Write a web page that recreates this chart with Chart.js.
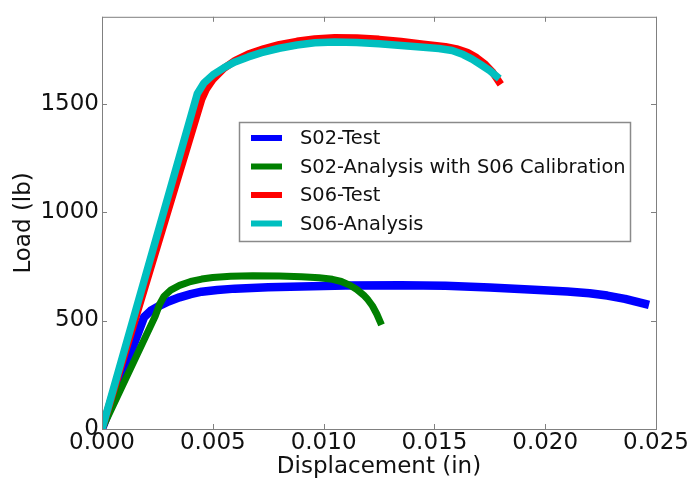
<!DOCTYPE html>
<html>
<head>
<meta charset="utf-8">
<script src="https://cdn.jsdelivr.net/npm/chart.js@4"></script>
<style>
  html, body { margin: 0; padding: 0; background: #fff; }
  #wrap { width: 695px; height: 482px; }
</style>
</head>
<body>
<div id="wrap"><canvas id="loadChart" width="695" height="482"></canvas></div>
<script>
// series (displacement in inches, load in lb)
const s02TestX = [0, 0.0019, 0.0022, 0.0026, 0.0030, 0.0035, 0.0040, 0.0045, 0.0052, 0.0060, 0.0075, 0.0090, 0.0110, 0.0135, 0.0155, 0.0175, 0.0195, 0.0210, 0.0220, 0.0228, 0.0236, 0.0245];
const s02TestY = [0, 516, 545, 568, 588, 607, 622, 633, 641, 647, 653, 657, 661, 663, 660, 652, 642, 634, 626, 615, 600, 577];

const s02AnalysisX = [0, 0.0024, 0.0026, 0.0028, 0.0031, 0.0035, 0.0040, 0.0045, 0.0050, 0.0058, 0.0068, 0.0080, 0.0090, 0.0098, 0.0104, 0.0108, 0.0112, 0.0115, 0.0118, 0.0120, 0.0122, 0.0124, 0.01255];
const s02AnalysisY = [0, 520, 575, 612, 640, 662, 680, 691, 698, 704, 706, 705, 702, 697, 690, 680, 662, 643, 618, 596, 568, 530, 495];

const s06TestX = [0, 0.0045, 0.0047, 0.0050, 0.0055, 0.0060, 0.0066, 0.0073, 0.0080, 0.0088, 0.0096, 0.0105, 0.0115, 0.0125, 0.0135, 0.0145, 0.0155, 0.0160, 0.0165, 0.0169, 0.0173, 0.0176, 0.0179];
const s06TestY = [0, 1520, 1565, 1610, 1662, 1698, 1728, 1752, 1772, 1787, 1798, 1804, 1802, 1796, 1786, 1774, 1762, 1752, 1735, 1712, 1680, 1648, 1603];

const s06AnalysisX = [0, 0.0043, 0.0046, 0.0050, 0.0055, 0.0060, 0.0066, 0.0072, 0.0080, 0.0088, 0.0096, 0.0105, 0.0115, 0.0125, 0.0135, 0.0145, 0.0152, 0.0158, 0.0163, 0.0167, 0.0171, 0.0175, 0.0178];
const s06AnalysisY = [0, 1545, 1595, 1632, 1665, 1692, 1715, 1735, 1755, 1770, 1780, 1784, 1782, 1776, 1768, 1760, 1754, 1745, 1726, 1705, 1679, 1652, 1626];

const seriesNames = ["S02-Test", "S02-Analysis with S06 Calibration", "S06-Test", "S06-Analysis"];
const seriesColors = ["#0000ff", "#008000", "#ff0000", "#00bfbf"];

const xTicks = [0, 0.005, 0.010, 0.015, 0.020, 0.025];
const yTicks = [0, 500, 1000, 1500];

const font = "'DejaVu Sans', sans-serif";

function pts(xs, ys) {
  return xs.map((x, i) => ({ x: x, y: ys[i] }));
}

function makeSet(i, xs, ys, width, order) {
  return {
    label: seriesNames[i],
    data: pts(xs, ys),
    showLine: true,
    borderColor: seriesColors[i],
    backgroundColor: seriesColors[i],
    borderWidth: width,
    borderCapStyle: "square",
    borderJoinStyle: "round",
    pointRadius: 0,
    tension: 0,
    order: order
  };
}

// frame with inward ticks on all four sides, like the original
const framePlugin = {
  id: "frame",
  afterDatasetsDraw(chart) {
    const { ctx, chartArea: a, scales } = chart;
    ctx.save();
    ctx.strokeStyle = "#808080";
    ctx.lineWidth = 1;
    ctx.strokeRect(a.left + 0.5, a.top + 0.5, a.right - a.left, a.bottom - a.top);
    ctx.beginPath();
    xTicks.forEach(v => {
      const px = Math.round(scales.x.getPixelForValue(v)) + 0.5;
      ctx.moveTo(px, a.bottom); ctx.lineTo(px, a.bottom - 5);
      ctx.moveTo(px, a.top); ctx.lineTo(px, a.top + 5);
    });
    yTicks.forEach(v => {
      const py = Math.round(scales.y.getPixelForValue(v)) + 0.5;
      ctx.moveTo(a.left, py); ctx.lineTo(a.left + 5, py);
      ctx.moveTo(a.right, py); ctx.lineTo(a.right - 5, py);
    });
    ctx.stroke();
    ctx.restore();
  }
};

// boxed legend placed inside the plot
const legendPlugin = {
  id: "boxLegend",
  afterDraw(chart) {
    const ctx = chart.ctx;
    const left = 239, top = 122, w = 391, h = 119, rowH = 28.5;
    ctx.save();
    ctx.fillStyle = "#fff";
    ctx.fillRect(left, top, w, h);
    ctx.strokeStyle = "#8a8a8a";
    ctx.lineWidth = 1.5;
    ctx.strokeRect(left + 0.5, top + 0.5, w, h);
    ctx.font = "19.4px " + font;
    ctx.textBaseline = "middle";
    chart.data.datasets.forEach((ds, i) => {
      const cy = top + 16 + i * rowH;
      ctx.strokeStyle = ds.borderColor;
      ctx.lineWidth = 6;
      ctx.beginPath();
      ctx.moveTo(251, cy); ctx.lineTo(282, cy);
      ctx.stroke();
      ctx.fillStyle = "#111";
      ctx.fillText(ds.label, 300, cy + 1);
    });
    ctx.restore();
  }
};

new Chart(document.getElementById("loadChart").getContext("2d"), {
  type: "scatter",
  data: {
    datasets: [
      makeSet(0, s02TestX, s02TestY, 8.5, 4),
      makeSet(1, s02AnalysisX, s02AnalysisY, 7, 3),
      makeSet(2, s06TestX, s06TestY, 7.5, 2),
      makeSet(3, s06AnalysisX, s06AnalysisY, 7.5, 1)
    ]
  },
  options: {
    responsive: false,
    animation: false,
    layout: { padding: { top: 9, right: 39, left: 0, bottom: 0 } },
    plugins: {
      legend: { display: false },
      tooltip: { enabled: false }
    },
    scales: {
      x: {
        type: "linear",
        min: 0,
        max: 0.025,
        afterFit: s => { s.height = 53; },
        afterBuildTicks: s => { s.ticks = xTicks.map(v => ({ value: v })); },
        ticks: {
          color: "#111",
          font: { family: font, size: 23 },
          padding: 0,
          maxRotation: 0,
          callback: v => v.toFixed(3)
        },
        grid: { display: false, drawTicks: false },
        border: { display: false },
        title: {
          display: true,
          text: "Displacement (in)",
          color: "#111",
          font: { family: font, size: 23 },
          padding: { top: 0, bottom: 1 }
        }
      },
      y: {
        type: "linear",
        min: 0,
        max: 1900,
        afterFit: s => { s.width = 102; },
        afterBuildTicks: s => { s.ticks = yTicks.map(v => ({ value: v })); },
        ticks: {
          color: "#111",
          font: { family: font, size: 23 },
          padding: 3,
          callback: v => String(v)
        },
        grid: { display: false, drawTicks: false },
        border: { display: false },
        title: {
          display: true,
          text: "Load (lb)",
          color: "#111",
          font: { family: font, size: 23 },
          padding: { top: 10, bottom: 0 }
        }
      }
    }
  },
  plugins: [framePlugin, legendPlugin]
});
</script>
</body>
</html>
